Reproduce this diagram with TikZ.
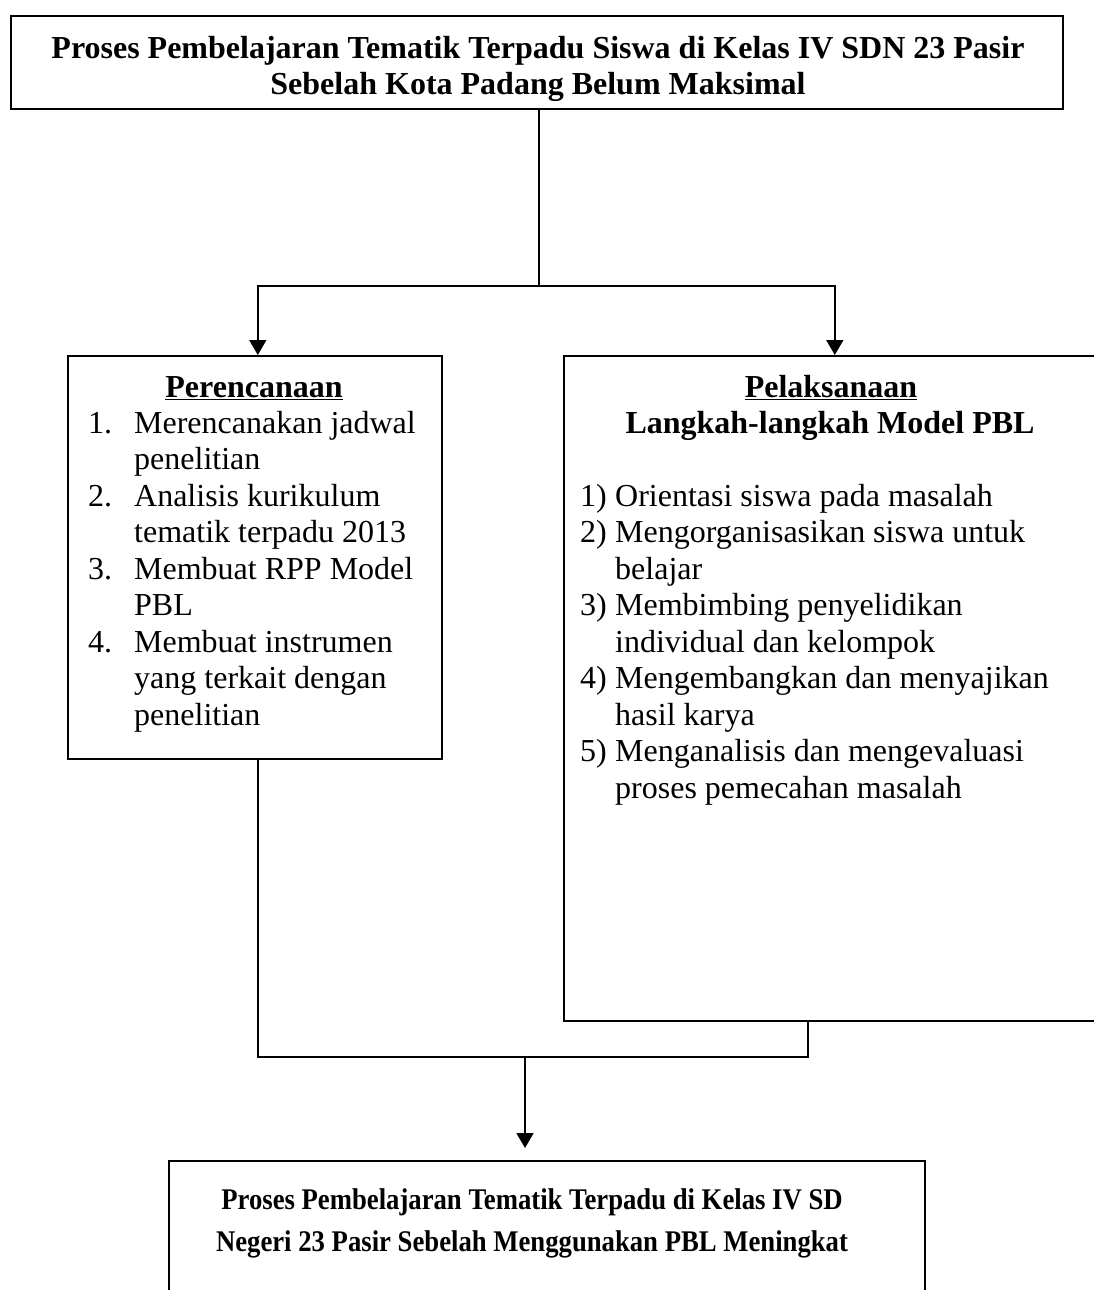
\documentclass[tikz,border=0pt]{standalone}
\usepackage{graphicx}
\usepackage{fontspec}
\setmainfont{Liberation Serif}
\usetikzlibrary{arrows.meta}
\newcommand\numL[1]{\makebox[46pt][l]{#1}}
\newcommand\numR[1]{\makebox[35pt][l]{#1}}
\begin{document}
\begin{tikzpicture}[x=1pt,y=-1pt,
  box/.style={draw, line width=1.6pt, inner sep=0pt, anchor=north west},
  conn/.style={line width=1.6pt},
  arr/.style={conn, -{Triangle[length=15pt,width=17pt]}},
  txt/.style={inner sep=0pt, font={\fontsize{32}{36.5}\selectfont}},
  bold/.style={inner sep=0pt, font={\fontsize{32}{36.5}\selectfont\bfseries}},
  smallbold/.style={inner sep=0pt, font={\fontsize{30}{36.5}\selectfont\bfseries}}]
\useasboundingbox (0,0) rectangle (1094,1290);
\clip (0,0) rectangle (1094,1290);
\fill[white] (0,0) rectangle (1094,1290);

% top box
\node[box, minimum width=1052pt, minimum height=93pt] (title) at (10,15) {};
\node[bold, anchor=base] (t1) at (538,59) {Proses Pembelajaran Tematik Terpadu Siswa di Kelas IV SDN 23 Pasir};
\node[bold, anchor=base] (t2) at (538,94) {Sebelah Kota Padang Belum Maksimal};

% left box
\node[box, minimum width=374pt, minimum height=403pt] (plan) at (67,355) {};
\node[bold, anchor=base] (planhead) at (254,397) {\underline{Perencanaan}};
\node[txt, anchor=base west] (planlist) at (88,433) {\parbox[t]{350pt}{%
\numL{1.}Merencanakan jadwal\\
\hspace*{46pt}penelitian\\
\numL{2.}Analisis kurikulum\\
\hspace*{46pt}tematik terpadu 2013\\
\numL{3.}Membuat RPP Model\\
\hspace*{46pt}PBL\\
\numL{4.}Membuat instrumen\\
\hspace*{46pt}yang terkait dengan\\
\hspace*{46pt}penelitian}};

% right box
\node[box, minimum width=534pt, minimum height=665pt] (exec) at (563,355) {};
\node[bold, anchor=base] (exechead) at (831,397) {\underline{Pelaksanaan}};
\node[bold, anchor=base] (execsub) at (830,433) {Langkah-langkah Model PBL};
\node[txt, anchor=base west] (execlist) at (580,506) {\parbox[t]{500pt}{%
\numR{1)}Orientasi siswa pada masalah\\
\numR{2)}Mengorganisasikan siswa untuk\\
\hspace*{35pt}belajar\\
\numR{3)}Membimbing penyelidikan\\
\hspace*{35pt}individual dan kelompok\\
\numR{4)}Mengembangkan dan menyajikan\\
\hspace*{35pt}hasil karya\\
\numR{5)}Menganalisis dan mengevaluasi\\
\hspace*{35pt}proses pemecahan masalah}};

% bottom box
\node[box, minimum width=756pt, minimum height=180pt] (result) at (168,1160) {};
\node[smallbold, anchor=base] (r1) at (532,1209) {\scalebox{0.89}[1]{Proses Pembelajaran Tematik Terpadu di Kelas IV SD}};
\node[smallbold, anchor=base] (r2) at (532,1251) {\scalebox{0.89}[1]{Negeri 23 Pasir Sebelah Menggunakan PBL Meningkat}};

% connectors
\coordinate (split) at (539,286);
\draw[conn] (title.south -| split) -- (split);
\draw[arr] (split) -| ([xshift=3pt]plan.north);
\draw[arr] (split) -| ([xshift=4pt]exec.north);

\coordinate (join) at (525,1057);
\coordinate (tip) at ([yshift=12pt]result.north);
\draw[conn] ([xshift=3pt]plan.south) |- (join) -| ([xshift=-23pt]exec.south);
\draw[arr] (join) -- (join |- tip);
\end{tikzpicture}
\end{document}
